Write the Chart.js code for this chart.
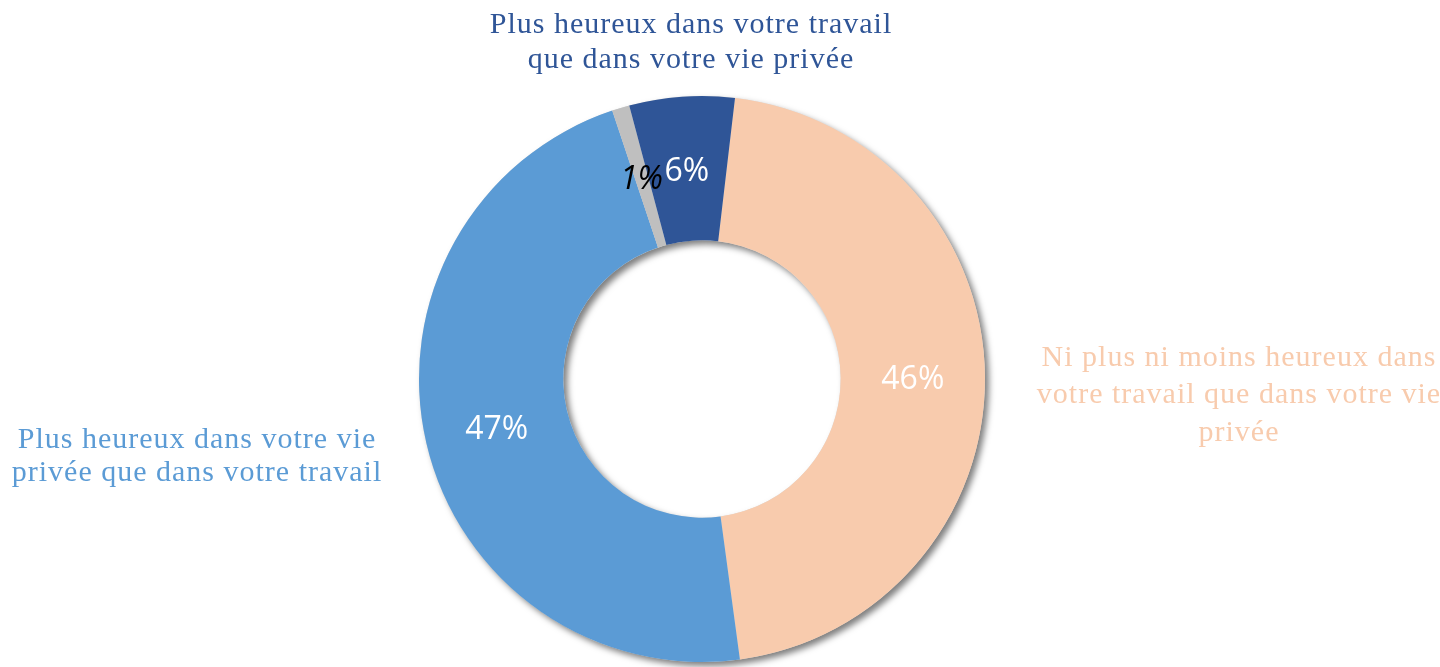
<!DOCTYPE html>
<html>
<head>
<meta charset="utf-8">
<script src="https://cdn.jsdelivr.net/npm/chart.js@4.4.0/dist/chart.umd.min.js"></script>
<style>
  html, body { margin: 0; padding: 0; background: #fff; }
  #wrap { width: 1440px; height: 667px; position: relative; }
</style>
</head>
<body>
<div id="wrap"><canvas id="donut"></canvas></div>
<script>
// donnees
var categories = [
  "Ni plus ni moins heureux dans votre travail que dans votre vie privée",
  "Plus heureux dans votre vie privée que dans votre travail",
  "Non réponse",
  "Plus heureux dans votre travail que dans votre vie privée"
];
var valeurs = [46, 47, 1, 6];
var couleurs = ['#F8CBAD', '#5B9BD5', '#BFBFBF', '#2F5597'];
var etiquettes = ['46%', '47%', '1%', '6%'];

// libelles exterieurs (lignes)
var libelleHaut = ["Plus heureux dans votre travail", "que dans votre vie privée"];
var libelleDroite = ["Ni plus ni moins heureux dans", "votre travail que dans votre vie", "privée"];
var libelleGauche = ["Plus heureux dans votre vie", "privée que dans votre travail"];

// ombre portee sous l'anneau
var ombrePlugin = {
  id: 'ombre',
  beforeDatasetsDraw: function(chart) {
    var arc = chart.getDatasetMeta(0).data[0];
    if (!arc) return;
    var ctx = chart.ctx;
    ctx.save();
    ctx.shadowColor = 'rgba(0,0,0,0.5)';
    ctx.shadowBlur = 6;
    ctx.shadowOffsetX = 4;
    ctx.shadowOffsetY = 4;
    ctx.beginPath();
    ctx.arc(arc.x, arc.y, arc.outerRadius, 0, Math.PI * 2);
    ctx.arc(arc.x, arc.y, arc.innerRadius, 0, Math.PI * 2, true);
    ctx.fillStyle = '#ddd';
    ctx.fill();
    ctx.restore();
  }
};

// pourcentages + libelles
var textePlugin = {
  id: 'textes',
  afterDatasetsDraw: function(chart) {
    var ctx = chart.ctx;
    var meta = chart.getDatasetMeta(0);
    ctx.save();
    ctx.textAlign = 'center';
    ctx.textBaseline = 'middle';
    meta.data.forEach(function(arc, i) {
      var p = arc.tooltipPosition();
      if (i == 2) {
        ctx.fillStyle = '#000';
        ctx.font = 'italic 32px "Open Sans"';
      } else {
        ctx.fillStyle = '#fff';
        ctx.font = '32px "Open Sans"';
      }
      ctx.fillText(etiquettes[i], p.x, p.y + 3);
    });

    ctx.font = '30px "Liberation Serif"';
    ctx.letterSpacing = '1px';
    ctx.fillStyle = '#2F5597';
    libelleHaut.forEach(function(l, k) { ctx.fillText(l, 691, 25 + k * 35); });
    ctx.fillStyle = '#F8CBAD';
    libelleDroite.forEach(function(l, k) { ctx.fillText(l, 1239, 358 + k * 37.5); });
    ctx.fillStyle = '#5B9BD5';
    libelleGauche.forEach(function(l, k) { ctx.fillText(l, 197, 440 + k * 33); });
    ctx.restore();
  }
};

var ctx = document.getElementById('donut');
var chart = new Chart(ctx, {
  type: 'doughnut',
  data: {
    labels: categories,
    datasets: [{
      data: valeurs,
      backgroundColor: couleurs,
      borderWidth: 0
    }]
  },
  options: {
    responsive: true,
    maintainAspectRatio: false,
    animation: false,
    rotation: 6.7,
    cutout: '49%',
    layout: { padding: { top: 96, bottom: 5, left: 0, right: 36 } },
    plugins: {
      legend: { display: false },
      tooltip: { enabled: false }
    }
  },
  plugins: [ombrePlugin, textePlugin]
});
</script>
</body>
</html>
